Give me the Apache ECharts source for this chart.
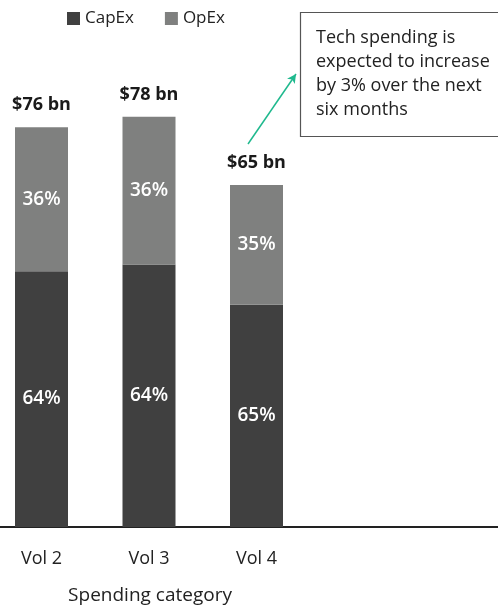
<!DOCTYPE html>
<html>
<head>
<meta charset="utf-8">
<style>
  html, body { margin: 0; padding: 0; background: #ffffff; }
  #chart { width: 498px; height: 608px; }
</style>
<script src="https://cdn.jsdelivr.net/npm/echarts@6/dist/echarts.min.js"></script>
</head>
<body>
<div id="chart"></div>
<script>
// Spending by volume: total in $ bn, split into CapEx / OpEx shares (%)
const categories = ['Vol 2', 'Vol 3', 'Vol 4'];
const totals = [76, 78, 65];
const capexShare = [64, 64, 65];
const opexShare = [36, 36, 35];
const seriesNames = ['CapEx', 'OpEx'];
const axisTitle = 'Spending category';
const noteLines = ['Tech spending is', 'expected to increase', 'by 3% over the next', 'six months'];

const FONT = '"Open Sans", "Noto Sans", sans-serif';
const CAPEX_COLOR = '#404040';
const OPEX_COLOR = '#7f807f';
const TEXT_COLOR = '#222222';

const capexData = totals.map((t, i) => t * capexShare[i] / 100);
const opexData = totals.map((t, i) => t * opexShare[i] / 100);

const chart = echarts.init(document.getElementById('chart'), null, { renderer: 'canvas' });

const barLabel = {
  show: true,
  position: 'inside',
  color: '#ffffff',
  fontFamily: FONT,
  fontSize: 19,
  fontWeight: 600
};

const option = {
  animation: false,
  backgroundColor: '#ffffff',
  textStyle: { fontFamily: FONT },
  legend: {
    data: seriesNames,
    left: 67,
    top: 10,
    padding: 0,
    itemWidth: 13,
    itemHeight: 13,
    itemGap: 31,
    icon: 'rect',
    textStyle: { fontFamily: FONT, fontSize: 17, color: TEXT_COLOR }
  },
  title: {
    text: axisTitle,
    left: 150,
    top: 586,
    padding: 0,
    textAlign: 'center',
    textStyle: { fontFamily: FONT, fontSize: 19, fontWeight: 'normal', color: TEXT_COLOR }
  },
  grid: [
    // plotting grid holding the three bars (starts slightly left of the canvas)
    { left: -12.25, width: 322.5, top: 1, bottom: 81, outerBoundsMode: 'none', containLabel: false },
    // full-width grid that only carries the baseline
    { left: 0, right: 0, top: 1, bottom: 81, outerBoundsMode: 'none', containLabel: false }
  ],
  xAxis: [
    {
      type: 'category',
      data: categories,
      gridIndex: 0,
      axisTick: { show: false },
      axisLine: { show: false },
      axisLabel: {
        margin: 23,
        fontFamily: FONT,
        fontSize: 18,
        color: TEXT_COLOR
      }
    },
    {
      type: 'category',
      data: [],
      gridIndex: 1,
      axisTick: { show: false },
      axisLabel: { show: false },
      axisLine: { show: true, onZero: false, lineStyle: { color: '#222222', width: 2 } }
    }
  ],
  yAxis: [
    { type: 'value', gridIndex: 0, min: 0, max: 100, show: false },
    { type: 'value', gridIndex: 1, min: 0, max: 100, show: false }
  ],
  series: [
    {
      name: 'CapEx',
      type: 'bar',
      stack: 'total',
      barWidth: 53,
      itemStyle: { color: CAPEX_COLOR },
      label: Object.assign({}, barLabel, { formatter: p => capexShare[p.dataIndex] + '%' }),
      data: capexData
    },
    {
      name: 'OpEx',
      type: 'bar',
      stack: 'total',
      barWidth: 53,
      itemStyle: { color: OPEX_COLOR },
      label: Object.assign({}, barLabel, { formatter: p => opexShare[p.dataIndex] + '%' }),
      data: opexData
    },
    {
      // totals written above each stack
      name: 'Total',
      type: 'bar',
      barGap: '-100%',
      barWidth: 53,
      silent: true,
      itemStyle: { color: 'rgba(0,0,0,0)' },
      label: {
        show: true,
        position: 'top',
        distance: 13,
        formatter: p => '$' + totals[p.dataIndex] + ' bn',
        color: '#1a1a1a',
        fontFamily: FONT,
        fontSize: 18,
        fontWeight: 'bold'
      },
      data: totals,
      z: 0,
      markLine: {
        silent: true,
        symbol: ['none', 'arrow'],
        symbolSize: [7, 9],
        label: { show: false },
        lineStyle: { color: '#1fb98e', width: 1.5, type: 'solid' },
        data: [[{ x: 248, y: 144 }, { x: 296, y: 74 }]]
      }
    }
  ],
  graphic: [
    {
      type: 'rect',
      shape: { x: 300.5, y: 12.5, width: 220, height: 124 },
      style: { fill: '#ffffff', stroke: '#555555', lineWidth: 1.2 },
      z: 10
    },
    {
      type: 'text',
      left: 316,
      top: 26,
      style: {
        text: noteLines.join('\n'),
        fontFamily: FONT,
        fontSize: 18,
        lineHeight: 24,
        fill: TEXT_COLOR
      },
      z: 11
    }
  ]
};

chart.setOption(option);
</script>
</body>
</html>
